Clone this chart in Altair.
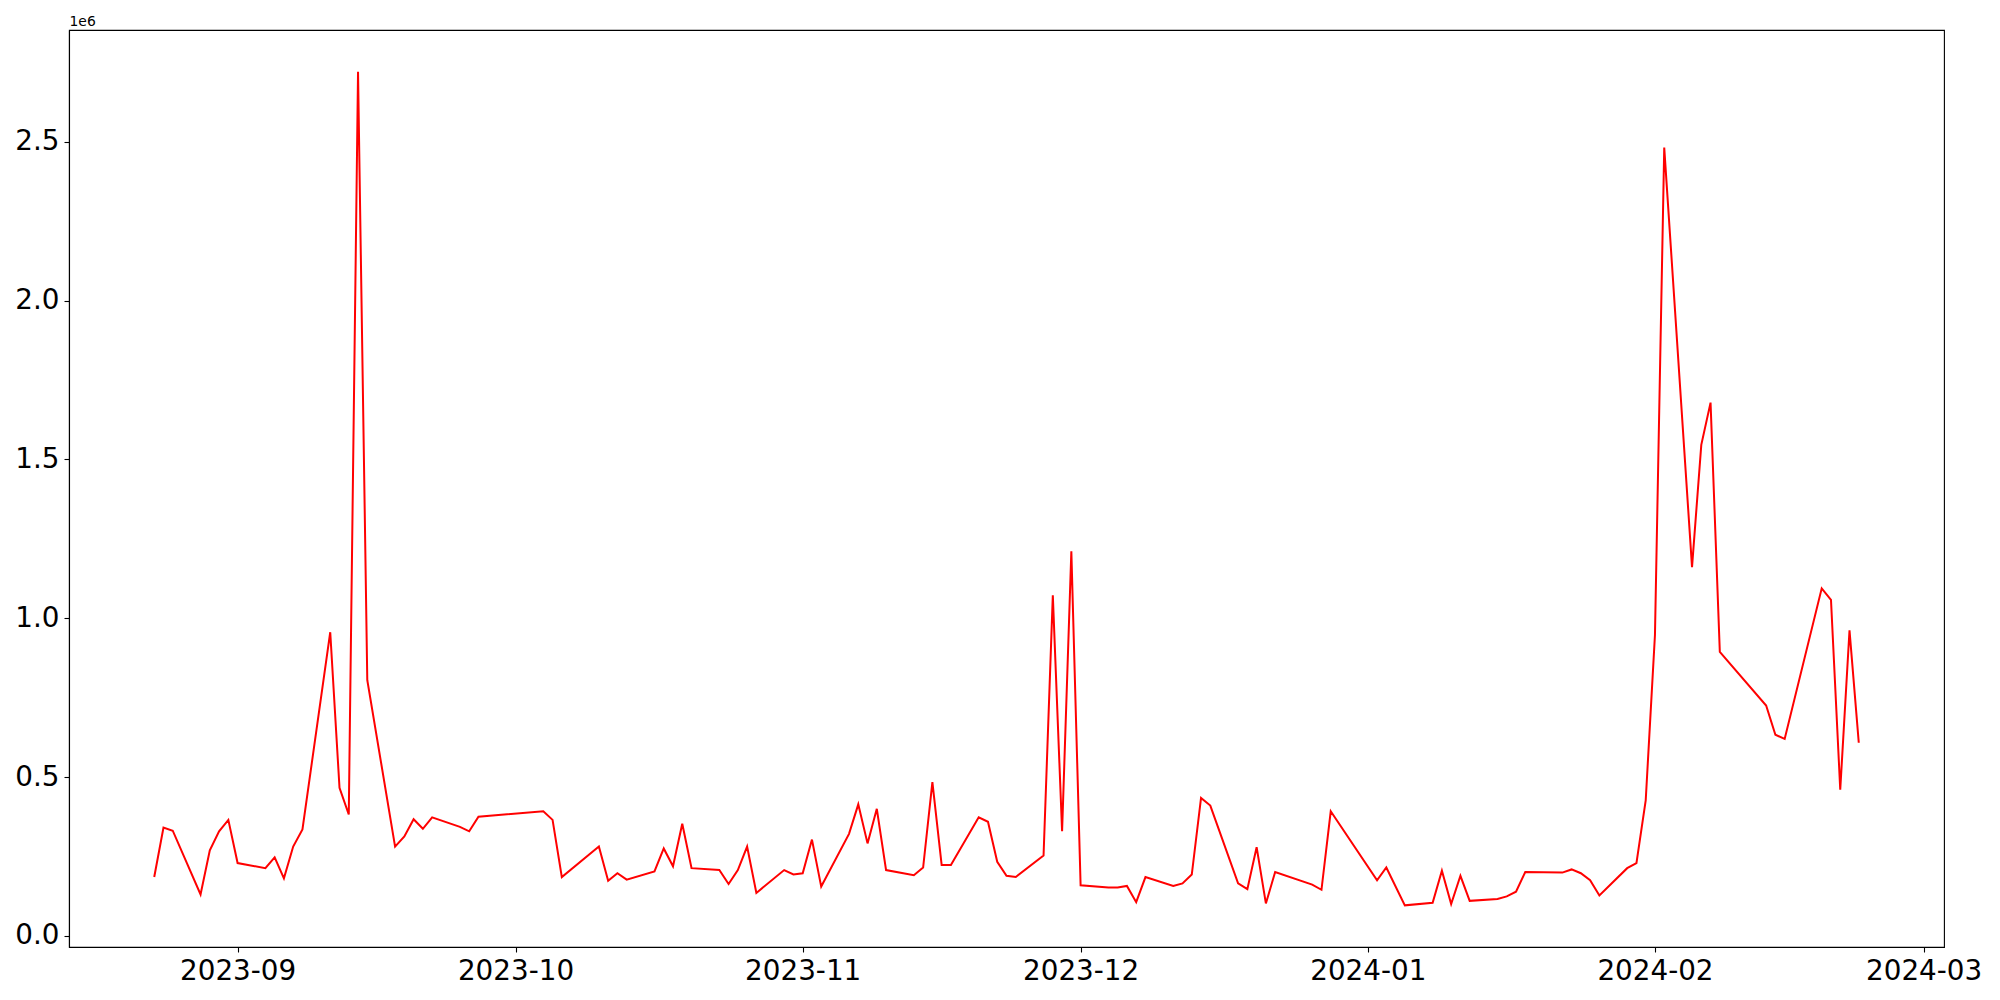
import altair as alt
import pandas as pd

dates = [
    "2023-08-23", "2023-08-24", "2023-08-25", "2023-08-28", "2023-08-29", "2023-08-30", "2023-08-31",
    "2023-09-01", "2023-09-04", "2023-09-05", "2023-09-06", "2023-09-07", "2023-09-08",
    "2023-09-11", "2023-09-12", "2023-09-13", "2023-09-14", "2023-09-15",
    "2023-09-18", "2023-09-19", "2023-09-20", "2023-09-21", "2023-09-22",
    "2023-09-25", "2023-09-26", "2023-09-27",
    "2023-10-04", "2023-10-05", "2023-10-06",
    "2023-10-10", "2023-10-11", "2023-10-12", "2023-10-13",
    "2023-10-16", "2023-10-17", "2023-10-18", "2023-10-19", "2023-10-20",
    "2023-10-23", "2023-10-24", "2023-10-25", "2023-10-26", "2023-10-27",
    "2023-10-30", "2023-10-31", "2023-11-01", "2023-11-02", "2023-11-03",
    "2023-11-06", "2023-11-07", "2023-11-08", "2023-11-09", "2023-11-10",
    "2023-11-13", "2023-11-14", "2023-11-15", "2023-11-16", "2023-11-17",
    "2023-11-20", "2023-11-21", "2023-11-22", "2023-11-23", "2023-11-24",
    "2023-11-27", "2023-11-28", "2023-11-29", "2023-11-30", "2023-12-01",
    "2023-12-04", "2023-12-05", "2023-12-06", "2023-12-07", "2023-12-08",
    "2023-12-11", "2023-12-12", "2023-12-13", "2023-12-14", "2023-12-15",
    "2023-12-18", "2023-12-19", "2023-12-20", "2023-12-21", "2023-12-22",
    "2023-12-26", "2023-12-27", "2023-12-28",
    "2024-01-02", "2024-01-03", "2024-01-05",
    "2024-01-08", "2024-01-09", "2024-01-10", "2024-01-11", "2024-01-12",
    "2024-01-15", "2024-01-16", "2024-01-17", "2024-01-18",
    "2024-01-22", "2024-01-23", "2024-01-24", "2024-01-25", "2024-01-26",
    "2024-01-29", "2024-01-30", "2024-01-31", "2024-02-01", "2024-02-02",
    "2024-02-05", "2024-02-06", "2024-02-07", "2024-02-08",
    "2024-02-13", "2024-02-14", "2024-02-15",
    "2024-02-19", "2024-02-20", "2024-02-21", "2024-02-22", "2024-02-23",
]

values = [
    185000, 341000, 331000, 130000, 269000, 329000, 365000,
    229000, 213000, 247000, 181000, 281000, 335000,
    956000, 466000, 382000, 2721000, 805000,
    281000, 313000, 367000, 337000, 373000,
    343000, 329000, 375000,
    392000, 365000, 185000,
    281000, 173000, 197000, 177000,
    203000, 275000, 219000, 353000, 213000,
    207000, 163000, 207000, 281000, 135000,
    207000, 193000, 197000, 303000, 155000,
    321000, 414000, 291000, 400000, 207000,
    191000, 215000, 484000, 223000, 223000,
    373000, 359000, 233000, 189000, 185000,
    253000, 1072000, 329000, 1211000, 159000,
    152000, 152000, 157000, 106000, 185000,
    157000, 165000, 193000, 434000, 410000,
    165000, 147000, 279000, 102000, 201000,
    161000, 145000, 392000,
    175000, 215000, 96000,
    104000, 205000, 100000, 189000, 110000,
    116000, 124000, 139000, 201000,
    199000, 209000, 197000, 175000, 127000,
    213000, 229000, 426000, 948000, 2482000,
    1161000, 1546000, 1679000, 894000,
    725000, 633000, 620000,
    1094000, 1058000, 460000, 962000, 608000,
]

x_tick_dates = ["2023-09-01", "2023-10-01", "2023-11-01", "2023-12-01",
                "2024-01-01", "2024-02-01", "2024-03-01"]
y_tick_values = [0, 500000, 1000000, 1500000, 2000000, 2500000]

df = pd.DataFrame({"date": dates, "value": values})

# matplotlib-style 5% margins
ts = pd.to_datetime(df["date"])
t0 = ts.min().value // 10**6
t1 = ts.max().value // 10**6
tm = 0.05 * (t1 - t0)
x_domain = [t0 - tm, t1 + tm]
vmin, vmax = min(values), max(values)
vm = 0.05 * (vmax - vmin)
y_domain = [vmin - vm, vmax + vm]
x_ticks = [pd.Timestamp(d).value // 10**6 for d in x_tick_dates]

FONT = "DejaVu Sans"

chart = alt.Chart(df).mark_line(color="#ff0000", strokeWidth=2, clip=True).encode(
    x=alt.X(
        "date:T",
        scale=alt.Scale(type="utc", domain=x_domain, nice=False),
        axis=alt.Axis(
            values=x_ticks,
            labelExpr="utcFormat(datum.value, '%Y-%m')",
            title=None,
            grid=False,
            labelFontSize=27.8,
            labelPadding=5,
            labelFlush=False,
            labelOverlap=False,
        ),
    ),
    y=alt.Y(
        "value:Q",
        scale=alt.Scale(domain=y_domain, nice=False, zero=False),
        axis=alt.Axis(
            values=y_tick_values,
            labelExpr="format(datum.value / 1000000, '.1f')",
            title="1e6",
            titleAngle=0,
            titleAlign="left",
            titleBaseline="alphabetic",
            titleX=0,
            titleY=-4.6,
            titleFontSize=13.9,
            titleFontWeight="normal",
            titleColor="black",
            titleFont=FONT,
            grid=False,
            labelFontSize=27.8,
            labelPadding=5,
            labelFlush=False,
            labelOverlap=False,
        ),
    ),
).properties(
    width=1875,
    height=917,
    background="white",
    autosize=alt.AutoSizeParams(type="none"),
    padding={"left": 61, "top": 22, "right": 40, "bottom": 60},
).configure_view(
    stroke="#000000", strokeWidth=1.1, strokeOpacity=1
).configure_axis(
    domainColor="black",
    domainWidth=1.1,
    tickColor="black",
    tickWidth=1.1,
    tickSize=5,
    labelColor="black",
    labelFont=FONT,
)

chart.save("out.html", embed_options={"renderer": "svg", "actions": False})
